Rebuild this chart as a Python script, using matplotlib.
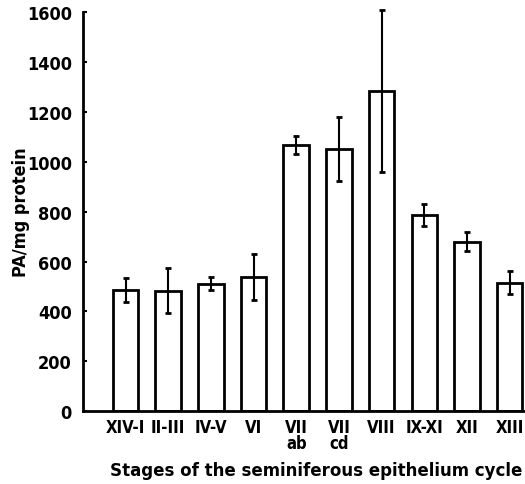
import matplotlib.pyplot as plt
import numpy as np

stages = ['XIV-I', 'II-III', 'IV-V', 'VI', 'VII\nab', 'VII\ncd', 'VIII', 'IX-XI', 'XII', 'XIII']
pa = [486, 483, 512, 538, 1068, 1050, 1284, 786, 680, 516]
err = [48, 90, 25, 92, 37, 128, 325, 44, 38, 48]

plt.rcParams['font.family'] = ['DejaVu Sans']
plt.rcParams['font.stretch'] = 'condensed'
plt.rcParams['font.weight'] = 'bold'

fig = plt.figure(figsize=(5.25, 4.85), dpi=100)
ax = fig.add_axes([0.158, 0.15, 0.842, 0.823])

x = np.arange(len(stages))
ax.bar(x, pa, width=0.6, color='white', edgecolor='black', linewidth=2, zorder=2)
ax.errorbar(x, pa, yerr=err, fmt='none', ecolor='black', elinewidth=1.5,
            capsize=2, capthick=2, zorder=3, clip_on=False)

ax.set_xlim(-1, 9.36)
ax.set_ylim(0, 1600)
ax.set_yticks(np.arange(0, 1601, 200))
ax.set_xticks(x)
ax.set_xticklabels(stages, fontsize=12, fontweight='bold', linespacing=0.85)
ax.tick_params(axis='x', length=0, pad=5)
ax.tick_params(axis='y', direction='in', length=3, width=1.5, labelsize=13, pad=8)
for lab in ax.get_yticklabels():
    lab.set_fontweight('bold')

for s in ['top', 'right']:
    ax.spines[s].set_visible(False)
for s in ['left', 'bottom']:
    ax.spines[s].set_linewidth(2)

ax.set_ylabel('PA/mg protein', fontsize=13, fontweight='bold')
ax.yaxis.set_label_coords(-0.12, 0.5)
ax.set_xlabel('Stages of the seminiferous epithelium cycle', fontsize=13.3,
              fontweight='bold')
ax.xaxis.set_label_coords(0.528, -0.125)

fig.savefig('out.png', dpi=100)
